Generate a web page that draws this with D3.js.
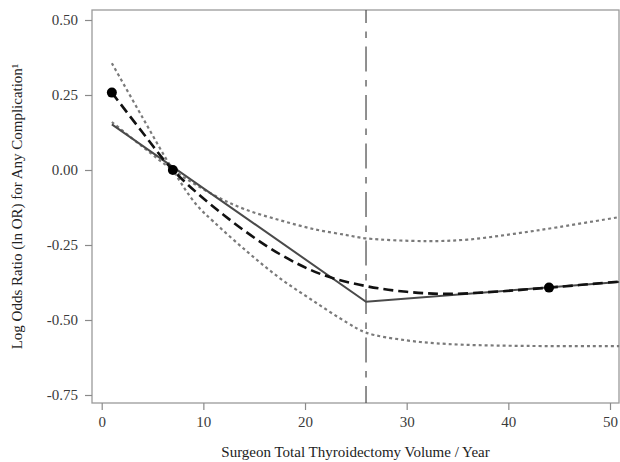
<!DOCTYPE html>
<html>
<head>
<meta charset="utf-8">
<script src="https://cdn.jsdelivr.net/npm/d3@7"></script>
<style>
  body { margin: 0; background: #fff; }
</style>
</head>
<body>
<svg id="chart" width="620" height="462"></svg>
<script>
// values
const xTicks = [0, 10, 20, 30, 40, 50];
const yTicks = [0.5, 0.25, 0, -0.25, -0.5, -0.75];
const knot = 26;

// restricted cubic spline fit (dashed black)
const splineFit = [[1, 0.258], [4, 0.126], [7, 0], [12, -0.15], [17.5, -0.28], [21.8, -0.35],
  [26, -0.387], [30, -0.406], [34, -0.413], [39, -0.405], [44, -0.392], [50.9, -0.372]];
// confidence band, the two curves cross at the reference point x = 7
const ciSteep = [[1, 0.356], [4, 0.176], [7, 0], [9.3, -0.115], [11, -0.172], [14.3, -0.272],
  [17.5, -0.36], [20.8, -0.436], [24.1, -0.508], [26, -0.542], [30, -0.568], [34, -0.58],
  [40.5, -0.586], [50.9, -0.587]];
const ciShallow = [[1, 0.16], [4, 0.078], [7, 0], [11, -0.083], [14, -0.13], [17.5, -0.167],
  [21, -0.198], [24.1, -0.217], [26, -0.228], [32, -0.237], [36, -0.232], [40.5, -0.213],
  [45, -0.19], [50.9, -0.157]];
// piecewise linear fit (solid grey)
const linearFit = [[1, 0.152], [26, -0.439], [50.9, -0.373]];
const markers = [[1, 0.258], [7, 0], [44, -0.392]];

const serif = '"Liberation Serif", "Times New Roman", Times, serif';
const svg = d3.select('#chart');
const frame = { left: 92, right: 619, top: 10, bottom: 403 };

const x = d3.scaleLinear().domain([0, 50]).range([101.7, 610]);
const y = d3.scaleLinear().domain([0.5, -0.75]).range([20, 395]);

const line = d3.line()
  .x(d => x(d[0]))
  .y(d => y(d[1]))
  .curve(d3.curveCatmullRom.alpha(0.5));

// frame
svg.append('rect')
  .attr('x', frame.left).attr('y', frame.top)
  .attr('width', frame.right - frame.left).attr('height', frame.bottom - frame.top)
  .attr('fill', 'none').attr('stroke', '#9a9a9a').attr('stroke-width', 1.3);

// axes
const yAxis = svg.append('g')
  .attr('transform', `translate(${frame.left},0)`)
  .call(d3.axisLeft(y).tickValues(yTicks).tickSize(7).tickPadding(7)
    .tickFormat(d => d.toFixed(2)));
const xAxis = svg.append('g')
  .attr('transform', `translate(0,${frame.bottom})`)
  .call(d3.axisBottom(x).tickValues(xTicks).tickSize(7).tickPadding(6));

[yAxis, xAxis].forEach(g => {
  g.attr('font-family', serif).attr('font-size', 15);
  g.select('.domain').remove();
  g.selectAll('line').attr('stroke', '#8a8a8a').attr('stroke-width', 1.2);
  g.selectAll('text').attr('fill', '#3a3a3a');
});

// knot reference line
svg.append('line')
  .attr('x1', x(knot)).attr('x2', x(knot))
  .attr('y1', frame.top).attr('y2', frame.bottom)
  .attr('stroke', '#555').attr('stroke-width', 1.3)
  .attr('stroke-dasharray', '25,8.5,6.5,8.5')
  .attr('stroke-dashoffset', 12);

// CI curves
[ciSteep, ciShallow].forEach(d => {
  svg.append('path')
    .datum(d)
    .attr('d', line)
    .attr('fill', 'none')
    .attr('stroke', '#7a7a7a')
    .attr('stroke-width', 2.2)
    .attr('stroke-dasharray', '3,3');
});

svg.append('path')
  .datum(linearFit)
  .attr('d', d3.line().x(d => x(d[0])).y(d => y(d[1])))
  .attr('fill', 'none')
  .attr('stroke', '#4a4a4a')
  .attr('stroke-width', 2);

svg.append('path')
  .datum(splineFit)
  .attr('d', line)
  .attr('fill', 'none')
  .attr('stroke', '#111')
  .attr('stroke-width', 2.6)
  .attr('stroke-dasharray', '10,5');

svg.selectAll('circle.pt')
  .data(markers)
  .join('circle')
  .attr('class', 'pt')
  .attr('cx', d => x(d[0]))
  .attr('cy', d => y(d[1]))
  .attr('r', 5)
  .attr('fill', '#000');

// titles
svg.append('text')
  .attr('x', (frame.left + frame.right) / 2)
  .attr('y', 457)
  .attr('text-anchor', 'middle')
  .attr('fill', '#222')
  .attr('font-family', serif)
  .attr('font-size', 15)
  .text('Surgeon Total Thyroidectomy Volume / Year');

svg.append('text')
  .attr('transform', `translate(22,${(frame.top + frame.bottom) / 2}) rotate(-90)`)
  .attr('text-anchor', 'middle')
  .attr('fill', '#222')
  .attr('font-family', serif)
  .attr('font-size', 15)
  .text('Log Odds Ratio (ln OR) for Any Complication¹');
</script>
</body>
</html>
